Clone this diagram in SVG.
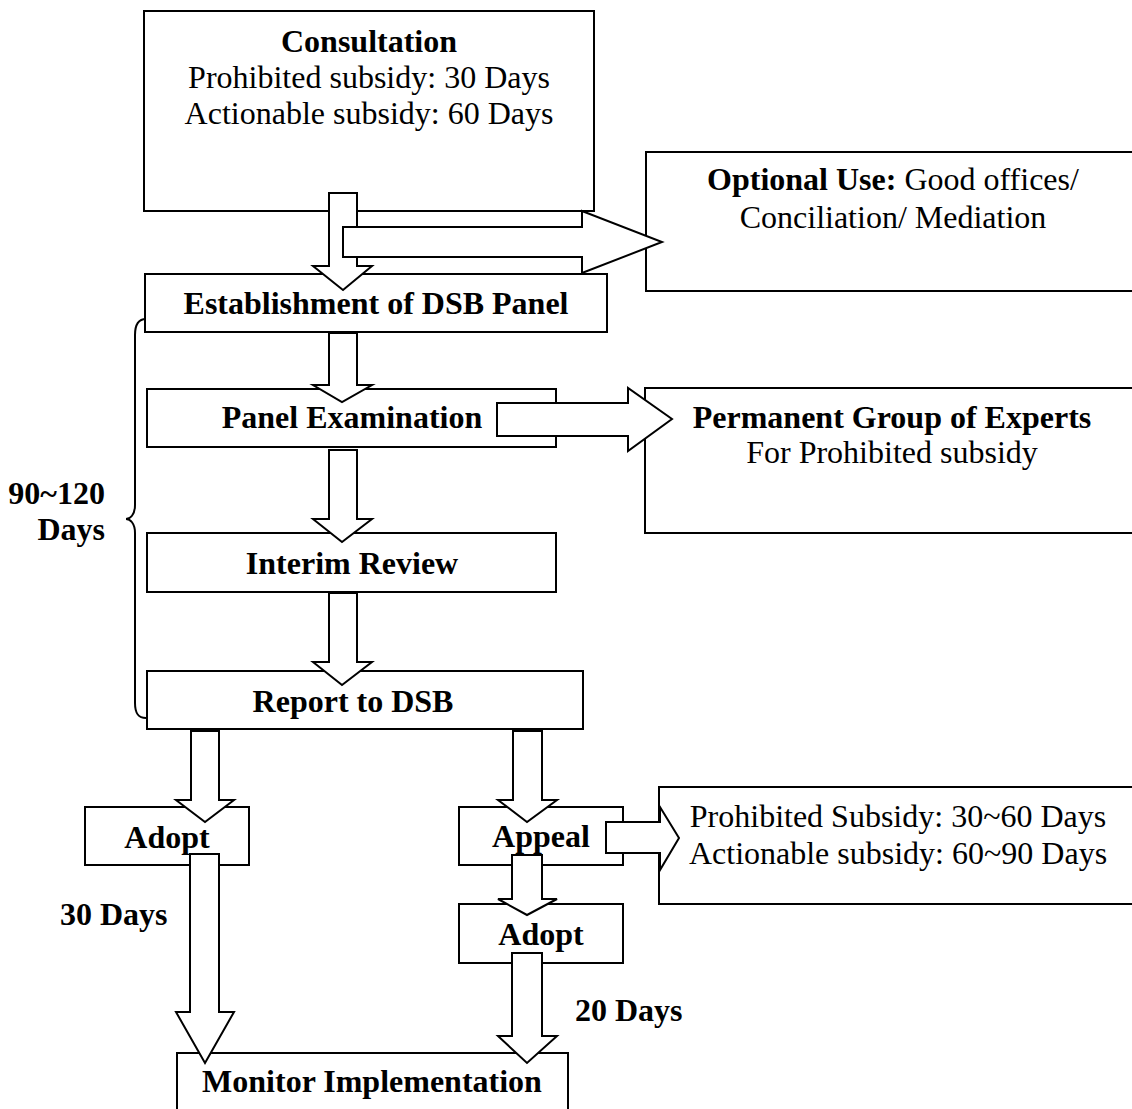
<svg xmlns="http://www.w3.org/2000/svg" width="1132" height="1109" viewBox="0 0 1132 1109">
<style>
.box{fill:#fff;stroke:#000;stroke-width:2}
.arr{fill:#fff;stroke:#000;stroke-width:2;stroke-linejoin:miter}
.t{font-family:"Liberation Serif","Times New Roman",serif;font-size:32px;fill:#000}
.b{font-weight:bold}
.c{text-anchor:middle}
.r{text-anchor:end}
.br{fill:none;stroke:#000;stroke-width:2}
</style>
<rect width="1132" height="1109" fill="#fff"/>
<g id="consultation">
<rect class="box" x="144" y="11" width="450" height="200"/>
<text class="t b c" x="369" y="52">Consultation</text>
<text class="t c" x="369" y="88">Prohibited subsidy: 30 Days</text>
<text class="t c" x="369" y="124">Actionable subsidy: 60 Days</text>
</g>
<g id="optional">
<rect class="box" x="646" y="152" width="494" height="139"/>
<text class="t c" x="893" y="190"><tspan class="b">Optional Use:</tspan>  Good offices/</text>
<text class="t c" x="893" y="228">Conciliation/ Mediation</text>
</g>
<g id="establishment">
<rect class="box" x="145" y="274" width="462" height="58"/>
<text class="t b c" x="376" y="314">Establishment of DSB Panel</text>
</g>
<g id="panel">
<rect class="box" x="147" y="389" width="409" height="58"/>
<text class="t b c" x="352" y="428">Panel Examination</text>
</g>
<g id="permanent">
<rect class="box" x="645" y="388" width="495" height="145"/>
<text class="t b c" x="892" y="428">Permanent Group of Experts</text>
<text class="t c" x="892" y="463">For Prohibited subsidy</text>
</g>
<g id="interim">
<rect class="box" x="147" y="533" width="409" height="59"/>
<text class="t b c" x="352" y="574">Interim Review</text>
</g>
<g id="report">
<rect class="box" x="147" y="671" width="436" height="58"/>
<text class="t b c" x="353" y="712">Report to DSB</text>
</g>
<g id="adopt1">
<rect class="box" x="85" y="807" width="164" height="58"/>
<text class="t b c" x="167" y="848">Adopt</text>
</g>
<g id="appeal">
<rect class="box" x="459" y="807" width="164" height="58"/>
<text class="t b c" x="541" y="847">Appeal</text>
</g>
<g id="appealtime">
<rect class="box" x="659" y="787" width="481" height="117"/>
<text class="t c" x="898" y="827">Prohibited Subsidy: 30~60 Days</text>
<text class="t c" x="898" y="864">Actionable subsidy: 60~90 Days</text>
</g>
<g id="adopt2">
<rect class="box" x="459" y="904" width="164" height="59"/>
<text class="t b c" x="541" y="945">Adopt</text>
</g>
<g id="monitor">
<rect class="box" x="177" y="1053" width="391" height="70"/>
<text class="t b c" x="372" y="1092">Monitor Implementation</text>
</g>
<g id="labels">
<text class="t b r" x="105" y="504">90~120</text>
<text class="t b r" x="105" y="540">Days</text>
<text class="t b" x="60" y="925">30 Days</text>
<text class="t b" x="575" y="1021">20 Days</text>
<path class="br" d="M146,319 C138,319 135,325 135,335 L135,505 C135,515 130,519 126,519 C130,519 135,523 135,533 L135,703 C135,713 138,718 146,718"/>
</g>
<g id="connectors">
<polygon class="arr" points="329,193 357,193 357,266 372,266 343,290 313,266 329,266"/>
<polygon class="arr" points="343,227 582,227 582,211 662,242 582,273 582,257 343,257"/>
<polygon class="arr" points="329,333 357,333 357,385 372,385 342,402 313,385 329,385"/>
<polygon class="arr" points="329,450 357,450 357,519 372,519 342,542 313,519 329,519"/>
<polygon class="arr" points="329,593 357,593 357,662 372,662 342,685 313,662 329,662"/>
<polygon class="arr" points="497,403 628,403 628,388 672,419 628,451 628,436 497,436"/>
<polygon class="arr" points="191,731 219,731 219,800 234,800 205,822 176,800 191,800"/>
<polygon class="arr" points="513,731 542,731 542,800 557,800 527,822 498,800 513,800"/>
<polygon class="arr" points="190,854 219,854 219,1012 234,1012 205,1063 176,1012 190,1012"/>
<polygon class="arr" points="606,822 660,822 660,807 679,838 660,870 660,853 606,853"/>
<polygon class="arr" points="512,855 542,855 542,899 557,899 527,915 498,899 512,899"/>
<polygon class="arr" points="512,953 542,953 542,1036 557,1036 527,1063 498,1036 512,1036"/>
</g>
</svg>
